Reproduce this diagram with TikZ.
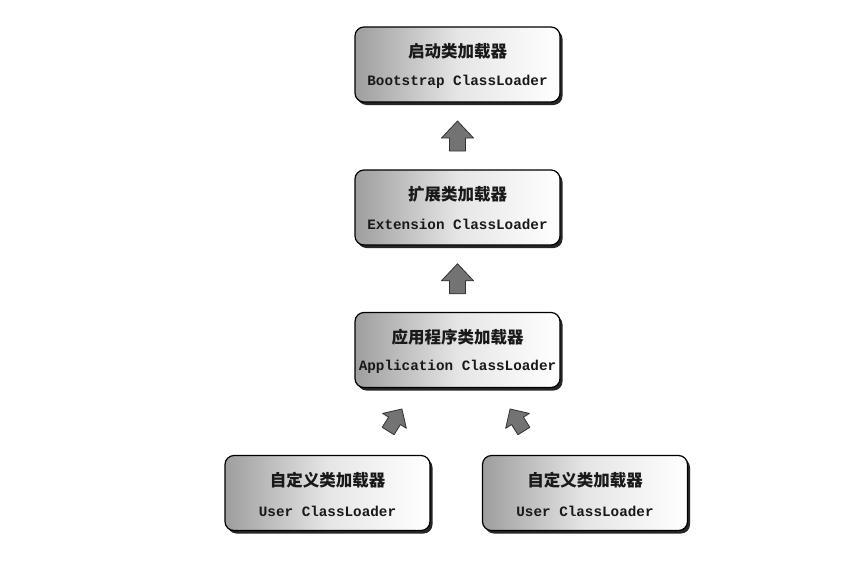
\documentclass[tikz,border=0pt]{standalone}
\usepackage{fontspec}
\setmonofont{Liberation Mono}
\newfontfamily\cjk{Noto Sans CJK SC}
\usetikzlibrary{shadows,calc}
\tikzset{
  loader/.style={draw=black, line width=1.2pt, rounded corners=9pt,
    minimum width=205pt, minimum height=75pt, inner sep=0pt,
    left color=black!38, right color=white, middle color=black!10,
    drop shadow={shadow xshift=2.5pt, shadow yshift=-3pt, fill=black!85, opacity=1}},
  zh/.style={font=\cjk\bfseries\fontsize{16.5}{19}\selectfont, text=black!90},
  en/.style={font=\ttfamily\bfseries\fontsize{14.3}{17}\selectfont, text=black!90},
  blockarrow/.style={fill=black!55, draw=black!80, line width=0.8pt, line join=round},
  pics/uparrow/.style={code={
    \path[blockarrow] (-8,15) -- (8,15) -- (8,2) -- (16,2) -- (0,-15) -- (-16,2) -- (-8,2) -- cycle;
  }},
  pics/smallarrow/.style={code={
    \path[blockarrow] (-7,13) -- (7,13) -- (7,1) -- (14,1) -- (0,-13) -- (-14,1) -- (-7,1) -- cycle;
  }}
}
\begin{document}
\begin{tikzpicture}[x=1pt,y=-1pt]
\useasboundingbox[fill=white] (0,0) rectangle (861,565);
\node[loader] (boot) at (457.5,64.5) {};
\node[loader] (ext) at (457.5,207.5) {};
\node[loader] (app) at (457.5,350) {};
\node[loader] (u1) at (327.5,493) {};
\node[loader] (u2) at (585,493) {};

\node[zh] (bootzh) at ([yshift=-25pt]boot.north) {启动类加载器};
\node[en] (booten) at ([yshift=-55pt]boot.north) {Bootstrap ClassLoader};
\node[zh] (extzh) at ([yshift=-25pt]ext.north) {扩展类加载器};
\node[en] (exten) at ([yshift=-55pt]ext.north) {Extension ClassLoader};
\node[zh] (appzh) at ([yshift=-25pt]app.north) {应用程序类加载器};
\node[en] (appen) at ([yshift=-55pt]app.north) {Application ClassLoader};
\node[zh] (u1zh) at ([yshift=-25pt]u1.north) {自定义类加载器};
\node[en] (u1en) at ([yshift=-56pt]u1.north) {User ClassLoader};
\node[zh] (u2zh) at ([yshift=-25pt]u2.north) {自定义类加载器};
\node[en] (u2en) at ([yshift=-56pt]u2.north) {User ClassLoader};

\pic at ($(boot.south)!0.5!(ext.north)$) {uparrow};
\pic at ($(ext.south)!0.5!(app.north)$) {uparrow};
\coordinate (la) at (395,420);
\coordinate (ra) at (517,420);
\pic[rotate=-32] at (la) {smallarrow};
\pic[rotate=32] at (ra) {smallarrow};
\end{tikzpicture}
\end{document}
